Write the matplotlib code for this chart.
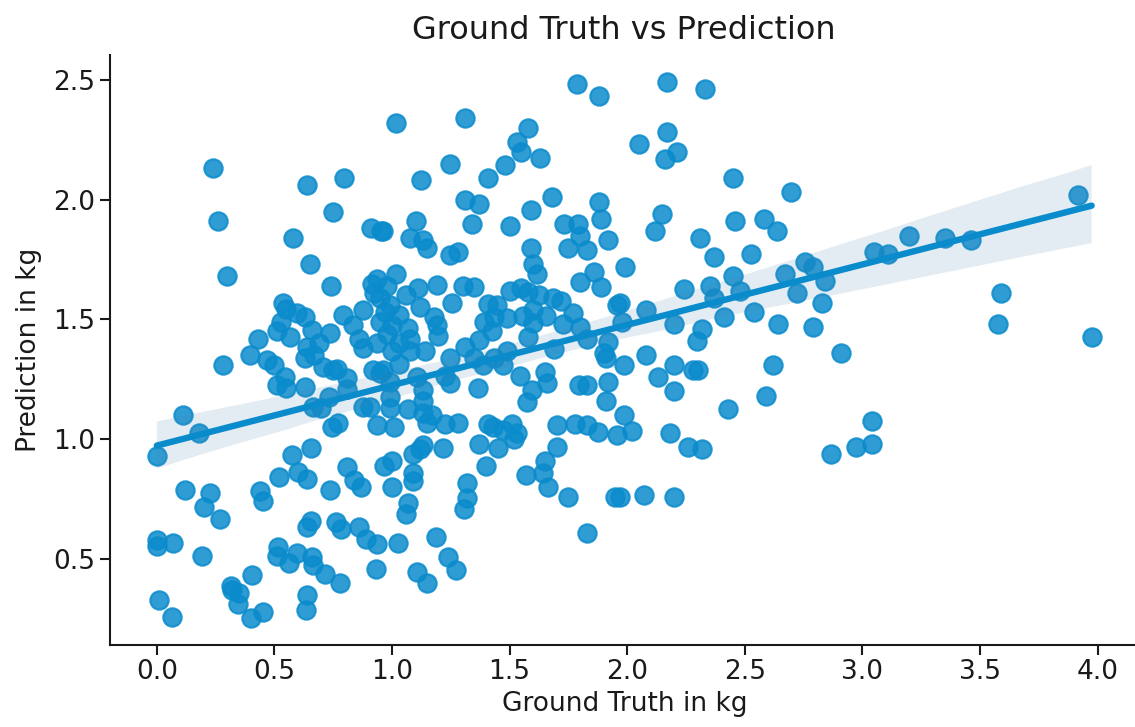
import matplotlib
matplotlib.use("Agg")
import matplotlib.pyplot as plt
import seaborn as sns
import numpy as np

# (ground truth, prediction) pairs
points = [
    # upper region
    (0.24, 2.13), (0.26, 1.91), (0.58, 1.84), (0.64, 2.06), (0.795, 2.09), (0.75, 1.95),
    (0.91, 1.88), (0.955, 1.87), (1.016, 2.32), (1.31, 2.34), (1.58, 2.30), (1.53, 2.24),
    (1.55, 2.20), (1.63, 2.175), (1.245, 2.15), (1.48, 2.145), (1.125, 2.08), (1.41, 2.09),
    (1.68, 2.01), (1.31, 2.00), (1.37, 1.98), (1.59, 1.955), (1.88, 1.99), (1.89, 1.92),
    (1.10, 1.91), (1.34, 1.90), (1.50, 1.89), (1.73, 1.90), (1.79, 1.90), (1.80, 1.85),
    (1.75, 1.80), (1.83, 1.79), (1.92, 1.83), (1.075, 1.84), (1.13, 1.83), (1.15, 1.80),
    (1.59, 1.80), (1.28, 1.78), (1.245, 1.77), (0.96, 1.87), (0.65, 1.73), (0.30, 1.68),
    (1.786, 2.48), (1.88, 2.43), (2.17, 2.49), (2.33, 2.46), (2.17, 2.28), (2.05, 2.23),
    (2.21, 2.20), (2.16, 2.17), (2.45, 2.09), (2.695, 2.03), (2.15, 1.94), (2.12, 1.87),
    (2.46, 1.91), (2.58, 1.92), (2.635, 1.87), (2.31, 1.84), (2.525, 1.775), (2.37, 1.76),
    (2.755, 1.74), (2.79, 1.72), (1.99, 1.72), (1.60, 1.73), (1.615, 1.69), (1.86, 1.70),
    (1.80, 1.655), (1.89, 1.635), (1.015, 1.69),
    # right region
    (3.05, 1.78), (3.11, 1.775), (3.20, 1.85), (3.35, 1.84), (3.46, 1.83), (3.915, 2.02),
    (3.59, 1.61), (3.575, 1.48), (3.975, 1.425), (3.04, 1.075), (3.04, 0.98), (2.975, 0.97),
    (2.865, 0.94), (2.67, 1.69), (2.45, 1.68), (2.35, 1.64), (2.24, 1.625), (2.48, 1.62),
    (2.37, 1.59), (2.84, 1.66), (2.72, 1.61), (2.83, 1.57), (1.97, 1.57), (2.08, 1.54),
    (1.98, 1.49), (2.20, 1.48), (2.41, 1.51), (2.54, 1.53), (2.64, 1.48), (2.79, 1.47),
    (2.32, 1.46), (2.295, 1.41), (2.91, 1.36), (1.985, 1.31), (2.08, 1.35), (2.13, 1.26),
    (2.20, 1.31), (2.28, 1.29), (2.30, 1.29), (2.62, 1.31), (2.20, 1.20), (2.59, 1.18),
    (2.43, 1.125), (1.985, 1.10), (2.02, 1.035), (2.18, 1.025), (2.26, 0.97), (2.32, 0.96),
    (1.97, 0.76), (2.07, 0.77), (2.20, 0.76),
    # middle region
    (0.98, 1.64), (1.11, 1.63), (1.19, 1.645), (1.30, 1.64), (1.35, 1.635), (1.50, 1.62),
    (1.55, 1.63), (1.58, 1.615), (1.625, 1.60), (1.685, 1.59), (1.72, 1.575), (1.06, 1.60),
    (0.95, 1.59), (1.12, 1.55), (1.255, 1.57), (1.41, 1.565), (1.445, 1.56), (1.49, 1.505),
    (1.39, 1.49), (1.425, 1.45), (1.435, 1.51), (1.555, 1.515), (1.60, 1.54), (1.60, 1.485),
    (1.655, 1.515), (1.725, 1.48), (1.77, 1.525), (1.80, 1.47), (1.83, 1.42), (1.58, 1.425),
    (1.69, 1.375), (1.955, 1.56), (1.92, 1.405), (1.90, 1.36), (1.91, 1.34), (0.99, 1.56),
    (1.03, 1.52), (1.00, 1.475), (1.07, 1.465), (1.18, 1.51), (1.19, 1.475), (1.195, 1.43),
    (0.98, 1.44), (1.03, 1.40), (1.075, 1.42), (1.075, 1.37), (1.00, 1.37), (1.14, 1.37),
    (1.03, 1.315), (0.96, 1.29), (0.99, 1.24), (1.105, 1.26), (1.245, 1.34), (1.31, 1.385),
    (1.37, 1.415), (1.35, 1.34), (1.385, 1.31), (1.435, 1.34), (1.47, 1.31), (1.49, 1.37),
    (1.225, 1.265), (1.245, 1.235), (1.365, 1.215), (1.545, 1.265), (1.65, 1.28), (1.66, 1.235),
    (1.595, 1.205), (1.575, 1.155), (1.795, 1.225), (1.83, 1.225), (1.92, 1.24), (1.91, 1.16),
    (1.13, 1.205), (1.13, 1.16), (0.99, 1.175), (0.99, 1.13), (1.07, 1.125), (1.13, 1.11),
    (1.17, 1.10), (1.15, 1.07), (1.225, 1.065), (1.28, 1.07), (1.41, 1.065), (1.43, 1.05),
    (1.47, 1.04), (1.51, 1.065), (1.53, 1.025), (1.01, 1.05), (1.70, 1.06), (1.78, 1.065),
    (1.83, 1.06), (1.875, 1.03), (1.955, 1.02),
    # left region
    (0.74, 1.64), (0.535, 1.57), (0.55, 1.545), (0.595, 1.525), (0.63, 1.51), (0.53, 1.49),
    (0.51, 1.45), (0.565, 1.425), (0.43, 1.42), (0.66, 1.455), (0.735, 1.445), (0.79, 1.52),
    (0.835, 1.475), (0.875, 1.54), (0.915, 1.65), (0.935, 1.67), (0.925, 1.61), (0.97, 1.53),
    (0.95, 1.49), (0.86, 1.42), (0.875, 1.38), (0.935, 1.40), (0.64, 1.385), (0.67, 1.35),
    (0.63, 1.34), (0.69, 1.40), (0.395, 1.35), (0.47, 1.33), (0.50, 1.31), (0.28, 1.31),
    (0.705, 1.30), (0.75, 1.29), (0.765, 1.295), (0.81, 1.255), (0.92, 1.29), (0.95, 1.275),
    (0.51, 1.225), (0.545, 1.26), (0.55, 1.215), (0.63, 1.22), (0.81, 1.21), (0.73, 1.175),
    (0.665, 1.135), (0.70, 1.13), (0.77, 1.07), (0.745, 1.05), (0.875, 1.135), (0.905, 1.135),
    (0.935, 1.06), (0.11, 1.10), (0.18, 1.025),
    # lower region
    (0.0, 0.93), (0.575, 0.935), (0.655, 0.965), (0.52, 0.845), (0.60, 0.865), (0.64, 0.835),
    (0.81, 0.885), (0.84, 0.83), (0.87, 0.80), (0.965, 0.89), (1.0, 0.91), (0.735, 0.79),
    (0.12, 0.79), (0.225, 0.775), (0.20, 0.72), (0.27, 0.67), (0.44, 0.785), (0.45, 0.745),
    (0.655, 0.66), (0.64, 0.635), (0.76, 0.655), (0.785, 0.625), (0.86, 0.635), (0.89, 0.585),
    (0.935, 0.565), (0.0, 0.58), (0.0, 0.555), (0.07, 0.57), (0.19, 0.515), (0.515, 0.55),
    (0.51, 0.515), (0.56, 0.485), (0.595, 0.525), (0.66, 0.51), (0.665, 0.475), (0.715, 0.44),
    (0.78, 0.40), (0.93, 0.46), (0.405, 0.435), (0.315, 0.39), (0.32, 0.37), (0.35, 0.36),
    (0.345, 0.315), (0.40, 0.255), (0.45, 0.28), (0.64, 0.35), (0.635, 0.29), (0.01, 0.33),
    (0.065, 0.26),
    (1.09, 0.94), (1.12, 0.96), (1.13, 0.975), (1.215, 0.965), (1.37, 0.98), (1.45, 0.965),
    (1.70, 0.97), (1.09, 0.86), (1.09, 0.825), (1.00, 0.80), (1.40, 0.89), (1.57, 0.85),
    (1.65, 0.91), (1.64, 0.86), (1.665, 0.80), (1.75, 0.76), (1.95, 0.76), (1.32, 0.82),
    (1.32, 0.755), (1.305, 0.71), (1.07, 0.735), (1.06, 0.69), (1.83, 0.61), (1.025, 0.57),
    (1.185, 0.595), (1.24, 0.51), (1.27, 0.455), (1.105, 0.445), (1.15, 0.40), (1.52, 1.00),
]
ground_truth = [p[0] for p in points]
prediction = [p[1] for p in points]

title = "Ground Truth vs Prediction"
xlabel = "Ground Truth in kg"
ylabel = "Prediction in kg"
xticks = [0.0, 0.5, 1.0, 1.5, 2.0, 2.5, 3.0, 3.5, 4.0]
yticks = [0.5, 1.0, 1.5, 2.0, 2.5]

sns.set_style("ticks")
plt.rcParams['font.family'] = ['DejaVu Sans']

fig = plt.figure(figsize=(11.35, 7.27), dpi=100)
ax = fig.add_axes([0.097, 0.113, 0.906, 0.811])

color = "#0a8bcc"
sns.regplot(x=np.array(ground_truth), y=np.array(prediction), ax=ax, color=color,
            scatter_kws=dict(s=175, alpha=0.85, linewidths=1.5),
            line_kws=dict(linewidth=4.6), seed=1)

# CI band colour
for coll in ax.collections[1:]:
    coll.set_facecolor((0.27, 0.51, 0.69, 0.2))
    coll.set_edgecolor("none")

ax.set_xticks(xticks)
ax.set_yticks(yticks)
ax.set_xticklabels([f"{t:.1f}" for t in xticks])
ax.set_yticklabels([f"{t:.1f}" for t in yticks])
ax.tick_params(labelsize=19, length=7, width=1.5, colors="#1a1a1a")
ax.set_xlabel(xlabel, fontsize=19, color="#1a1a1a")
ax.set_ylabel(ylabel, fontsize=19, color="#1a1a1a", labelpad=8)
ax.set_title(title, fontsize=23, color="#1a1a1a", pad=12)
for s in ["left", "bottom"]:
    ax.spines[s].set_linewidth(1.5)
    ax.spines[s].set_color("#1a1a1a")
sns.despine(ax=ax)

fig.savefig("out.png", dpi=100)
